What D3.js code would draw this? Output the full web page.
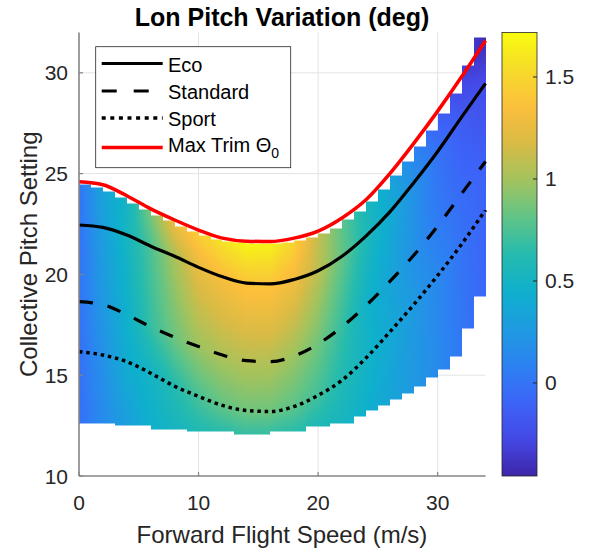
<!DOCTYPE html>
<html>
<head>
<meta charset="utf-8">
<script src="https://cdn.jsdelivr.net/npm/d3@7"></script>
<style>
body { margin: 0; background: #fff; }
text { font-family: "Liberation Sans", Arial, Helvetica, sans-serif; fill: #262626; }
</style>
</head>
<body>
<script>
// speed samples (m/s) for the four curves
var speed = [0, 2, 4, 6, 8, 10, 12, 14, 16, 18, 20, 22, 24, 26, 28, 30, 32, 34];
var ecoPitch      = [22.45, 22.33, 21.95, 21.4, 20.9, 20.35, 19.88, 19.57, 19.53, 19.75, 20.18, 20.9, 21.9, 23.1, 24.55, 26.1, 27.8, 29.48];
var standardPitch = [18.65, 18.5, 18.0, 17.4, 16.88, 16.42, 16.0, 15.72, 15.67, 15.95, 16.55, 17.4, 18.45, 19.65, 20.95, 22.4, 24.0, 25.6];
var sportPitch    = [16.17, 16.0, 15.67, 15.1, 14.45, 13.95, 13.5, 13.25, 13.2, 13.45, 14.0, 14.75, 15.85, 17.15, 18.5, 19.95, 21.5, 23.2];
var maxTrimPitch  = [24.6, 24.45, 23.9, 23.25, 22.7, 22.2, 21.8, 21.65, 21.63, 21.8, 22.15, 22.8, 23.7, 25.0, 26.5, 28.1, 29.8, 31.6];

// pitch variation (deg) read along each level, same speeds
var valueBottom   = [-0.02, 0.15, 0.3, 0.45, 0.52, 0.6, 0.64, 0.68, 0.68, 0.64, 0.58, 0.52, 0.45, 0.35, 0.25, 0.15, 0.02, -0.08];
var valueSport    = [-0.02, 0.2, 0.42, 0.5, 0.62, 0.74, 0.82, 0.86, 0.85, 0.8, 0.72, 0.6, 0.5, 0.38, 0.26, 0.13, 0.0, -0.1];
var valueStandard = [0.0, 0.25, 0.45, 0.68, 0.85, 0.98, 1.03, 1.06, 1.05, 0.98, 0.86, 0.68, 0.48, 0.35, 0.2, 0.05, -0.05, -0.12];
var valueEco      = [0.0, 0.3, 0.52, 0.75, 1.02, 1.25, 1.34, 1.4, 1.4, 1.3, 1.08, 0.82, 0.58, 0.4, 0.2, 0.0, -0.15, -0.25];
var valueTop      = [0.0, 0.35, 0.5, 0.9, 1.3, 1.48, 1.6, 1.7, 1.68, 1.5, 1.1, 0.8, 0.55, 0.35, 0.08, -0.15, -0.3, -0.42];

// surface cells, 1 m/s wide, left edge at cellSpeed
var cellSpeed  = [0, 1, 2, 3, 4, 5, 6, 7, 8, 9, 10, 11, 12, 13, 14, 15, 16, 17, 18, 19, 20, 21, 22, 23, 24, 25, 26, 27, 28, 29, 30, 31, 32, 33];
var cellBottom = [12.6, 12.6, 12.6, 12.5, 12.5, 12.5, 12.32, 12.32, 12.32, 12.2, 12.2, 12.2, 12.2, 12.08, 12.08, 12.08, 12.2, 12.2, 12.2, 12.45, 12.45, 12.62, 12.62, 12.94, 13.27, 13.52, 13.8, 14.1, 14.45, 14.9, 15.3, 15.95, 17.3, 18.9];
var cellTop    = [24.45, 24.3, 24.1, 23.8, 23.5, 23.2, 22.9, 22.65, 22.4, 22.15, 21.95, 21.75, 21.65, 21.6, 21.55, 21.55, 21.55, 21.6, 21.7, 21.85, 22.05, 22.3, 22.7, 23.1, 23.6, 24.2, 24.9, 25.6, 26.35, 27.15, 28.0, 28.95, 30.35, 31.75];

var xTicks = [0, 10, 20, 30];
var yTicks = [10, 15, 20, 25, 30];
var cTicks = [0, 0.5, 1, 1.5];
var cRange = [-0.456, 1.718];

var seriesNames = ["Eco", "Standard", "Sport", "Max Trim"];

var parulaStops = ["#3e26a8", "#4548e6", "#3c64f8", "#2c82f2", "#1e9be0", "#0eb0cc", "#26bbae", "#60c487", "#a2c35e", "#d9bb45", "#fcbf3c", "#f6dc2a", "#f9fb0e"];

var chart = (function() {
    var w = 590, h = 552;
    var pLeft = 79, pRight = 485.5, pTop = 32.5, pBottom = 476;

    var svg = d3.select("body")
                .append("svg")
                .attr("width", w)
                .attr("height", h);

    svg.append("rect").attr("width", w).attr("height", h).attr("fill", "#fff");

    var xScale = d3.scaleLinear().domain([0, 34]).range([pLeft, pRight]);
    var yScale = d3.scaleLinear().domain([10, 32]).range([pBottom, pTop]);
    var cScale = d3.scaleLinear().domain(cRange).range([pBottom, pTop]);

    var parula = d3.scaleLinear()
                   .domain(d3.range(parulaStops.length).map(i => i / (parulaStops.length - 1)))
                   .range(parulaStops)
                   .interpolate(d3.interpolateRgb)
                   .clamp(true);
    var colorOf = v => parula((v - cRange[0]) / (cRange[1] - cRange[0]));

    // grid
    var grid = svg.append("g").attr("stroke", "#e3e3e3").attr("stroke-width", 1);
    grid.selectAll(".gx").data(xTicks.slice(1)).enter().append("line")
        .attr("x1", d => xScale(d)).attr("x2", d => xScale(d))
        .attr("y1", pTop).attr("y2", pBottom);
    grid.selectAll(".gy").data(yTicks.slice(1)).enter().append("line")
        .attr("x1", pLeft).attr("x2", pRight)
        .attr("y1", d => yScale(d)).attr("y2", d => yScale(d));

    // surface value at (x, y): linear between the level curves
    var atSpeed = function(arr, x) {
        var k = Math.min(Math.floor(x / 2), speed.length - 2);
        var t = (x - speed[k]) / (speed[k + 1] - speed[k]);
        return arr[k] + (arr[k + 1] - arr[k]) * t;
    };

    var surfaceValue = function(x, y, col) {
        var hs = [cellBottom[col], atSpeed(sportPitch, x), atSpeed(standardPitch, x),
                  atSpeed(ecoPitch, x), atSpeed(maxTrimPitch, x)];
        var vs = [atSpeed(valueBottom, x), atSpeed(valueSport, x), atSpeed(valueStandard, x),
                  atSpeed(valueEco, x), atSpeed(valueTop, x)];
        if (y <= hs[0]) return vs[0];
        for (var i = 0; i < 4; i++) {
            if (y <= hs[i + 1]) return vs[i] + (vs[i + 1] - vs[i]) * (y - hs[i]) / (hs[i + 1] - hs[i]);
        }
        return vs[4];
    };

    var pw = Math.round(pRight - pLeft), ph = Math.round(pBottom - pTop);
    var canvas = document.createElement("canvas");
    canvas.width = pw; canvas.height = ph;
    var ctx = canvas.getContext("2d");
    var img = ctx.createImageData(pw, ph);
    for (var px = 0; px < pw; px++) {
        var xv = xScale.invert(pLeft + px + 0.5);
        var col = Math.max(0, Math.min(cellSpeed.length - 1, Math.floor(xv)));
        for (var py = 0; py < ph; py++) {
            var yv = yScale.invert(pTop + py + 0.5);
            if (yv < cellBottom[col] || yv > cellTop[col]) continue;
            var c = d3.rgb(colorOf(surfaceValue(xv, yv, col)));
            var o = (py * pw + px) * 4;
            img.data[o] = c.r; img.data[o + 1] = c.g; img.data[o + 2] = c.b; img.data[o + 3] = 255;
        }
    }
    ctx.putImageData(img, 0, 0);

    svg.append("image")
       .attr("x", pLeft).attr("y", pTop)
       .attr("width", pw).attr("height", ph)
       .attr("preserveAspectRatio", "none")
       .attr("href", canvas.toDataURL());

    // curves
    var line = arr => d3.line()
                        .x((d, i) => xScale(speed[i]))
                        .y(d => yScale(d))
                        .curve(d3.curveMonotoneX)(arr);

    var curves = [
        {data: ecoPitch, color: "#000", width: 3.2, dash: null},
        {data: standardPitch, color: "#000", width: 3.2, dash: "14,15"},
        {data: sportPitch, color: "#000", width: 3.5, dash: "3.5,3.8"},
        {data: maxTrimPitch, color: "#ff0000", width: 3.5, dash: null}
    ];

    svg.append("g").selectAll("path")
       .data(curves)
       .enter()
       .append("path")
       .attr("d", d => line(d.data))
       .attr("fill", "none")
       .attr("stroke", d => d.color)
       .attr("stroke-width", d => d.width)
       .attr("stroke-dasharray", d => d.dash);

    // axes
    var axisColor = "#858585";
    svg.append("line").attr("x1", pLeft).attr("x2", pRight).attr("y1", pBottom).attr("y2", pBottom)
       .attr("stroke", axisColor).attr("stroke-width", 1.6);
    svg.append("line").attr("x1", pLeft).attr("x2", pLeft).attr("y1", pTop).attr("y2", pBottom)
       .attr("stroke", axisColor).attr("stroke-width", 1.6);

    svg.append("g").selectAll("line").data(xTicks).enter().append("line")
       .attr("x1", d => xScale(d)).attr("x2", d => xScale(d))
       .attr("y1", pBottom).attr("y2", pBottom - 4)
       .attr("stroke", axisColor).attr("stroke-width", 1.2);
    svg.append("g").selectAll("line").data(yTicks).enter().append("line")
       .attr("x1", pLeft).attr("x2", pLeft + 4)
       .attr("y1", d => yScale(d)).attr("y2", d => yScale(d))
       .attr("stroke", axisColor).attr("stroke-width", 1.2);

    svg.append("g").selectAll("text").data(xTicks).enter().append("text")
       .attr("x", d => xScale(d)).attr("y", 510)
       .attr("text-anchor", "middle")
       .attr("font-size", 21)
       .text(d => d);
    svg.append("g").selectAll("text").data(yTicks).enter().append("text")
       .attr("x", 68).attr("y", d => yScale(d) + 7.5)
       .attr("text-anchor", "end")
       .attr("font-size", 21)
       .text(d => d);

    // titles
    svg.append("text").attr("x", 282).attr("y", 26)
       .attr("text-anchor", "middle").attr("font-size", 25).attr("font-weight", "bold")
       .style("fill", "#000")
       .text("Lon Pitch Variation (deg)");
    svg.append("text").attr("x", 282).attr("y", 543)
       .attr("text-anchor", "middle").attr("font-size", 24)
       .text("Forward Flight Speed (m/s)");
    svg.append("text")
       .attr("transform", "translate(37," + ((pTop + pBottom) / 2) + ") rotate(-90)")
       .attr("text-anchor", "middle").attr("font-size", 24)
       .text("Collective Pitch Setting");

    // colorbar
    var cbX = 502, cbW = 35;
    var grad = svg.append("defs").append("linearGradient")
                  .attr("id", "cbar").attr("x1", 0).attr("x2", 0).attr("y1", 1).attr("y2", 0);
    grad.selectAll("stop").data(d3.range(41)).enter().append("stop")
        .attr("offset", d => d / 40)
        .attr("stop-color", d => parula(d / 40));
    svg.append("rect").attr("x", cbX).attr("y", pTop).attr("width", cbW).attr("height", pBottom - pTop)
       .attr("fill", "url(#cbar)").attr("stroke", "#262626").attr("stroke-width", 0.8);
    svg.append("g").selectAll("line").data(cTicks).enter().append("line")
       .attr("x1", cbX + cbW).attr("x2", cbX + cbW - 4)
       .attr("y1", d => cScale(d)).attr("y2", d => cScale(d))
       .attr("stroke", "#262626").attr("stroke-width", 1);
    svg.append("g").selectAll("text").data(cTicks).enter().append("text")
       .attr("x", 545).attr("y", d => cScale(d) + 7.5)
       .attr("font-size", 21)
       .text(d => d);

    // legend
    var lg = svg.append("g");
    lg.append("rect").attr("x", 95.7).attr("y", 46.7).attr("width", 195).attr("height", 121)
      .attr("fill", "#fff").attr("stroke", "#262626").attr("stroke-width", 0.8);
    var rowY = [63.5, 91, 118, 147.5];
    var legendDash = [null, "15,17", "4,4.6", null];
    curves.forEach(function(c, i) {
        lg.append("line").attr("x1", 101.7).attr("x2", 162.7)
          .attr("y1", rowY[i]).attr("y2", rowY[i])
          .attr("stroke", c.color).attr("stroke-width", c.width)
          .attr("stroke-dasharray", legendDash[i]);
        var t = lg.append("text").attr("x", 168).attr("y", rowY[i] + 8)
                  .attr("font-size", 20).style("fill", "#000")
                  .text(seriesNames[i]);
        if (i === 3) {
            t.attr("y", rowY[i] + 4.5);
            t.append("tspan").text(" \u0398");
            t.append("tspan").attr("font-size", 14).attr("dy", 6).text("0");
        }
    });
})();
</script>
</body>
</html>
